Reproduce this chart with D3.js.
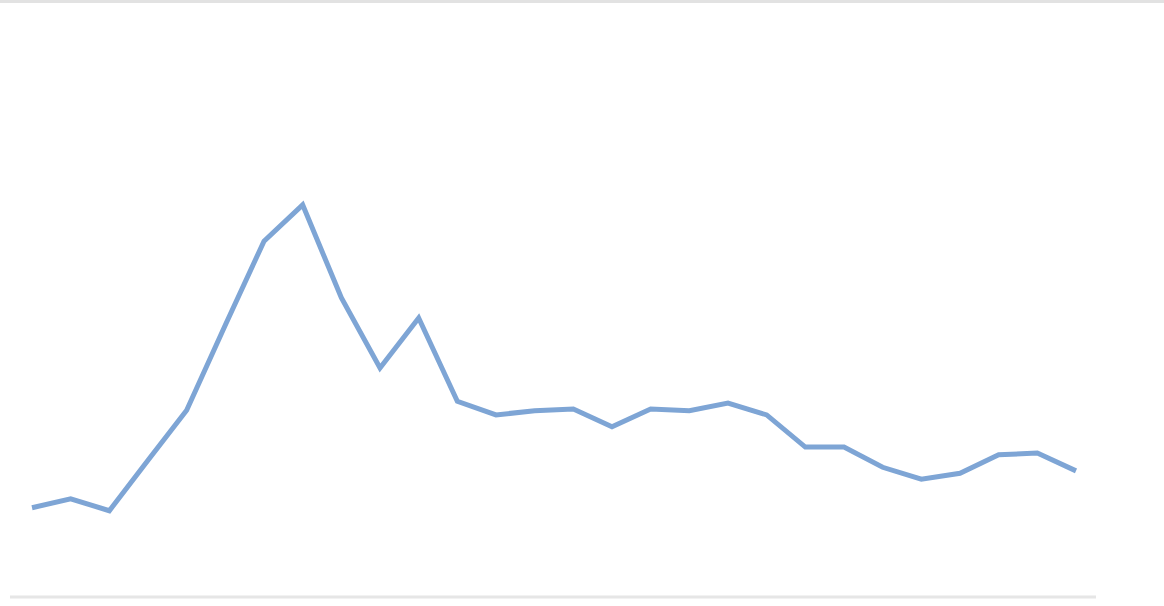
<!DOCTYPE html>
<html>
<head>
<meta charset="utf-8">
<script src="https://cdn.jsdelivr.net/npm/d3@7"></script>
<style>
  html, body { margin: 0; padding: 0; background: #fff; }
  svg { display: block; }
</style>
</head>
<body>
<svg id="chart"></svg>
<script>
// periods along the x axis (no labels shown in the picture)
const periods = d3.range(1, 29)
// series values
const values = [15.0, 16.5, 14.5, 23.0, 31.4, 45.7, 59.8, 65.9, 50.3, 38.5,
  46.9, 32.9, 30.6, 31.3, 31.6, 28.6, 31.6, 31.3, 32.6, 30.6,
  25.2, 25.2, 21.8, 19.8, 20.8, 23.9, 24.2, 21.2]

const width = 1164
const height = 606

const svg = d3.select('#chart')
  .attr('width', width)
  .attr('height', height)

let x = d3.scalePoint()
  .domain(periods)
  .range([32, 1076])

let y = d3.scaleLinear()
  .domain([0, 100])
  .range([597, 2])

// top border
svg.append('rect')
  .attr('x', 0).attr('y', 0)
  .attr('width', width).attr('height', 3)
  .attr('fill', '#e2e2e2')

// bottom axis line
svg.append('line')
  .attr('x1', 10).attr('x2', 1096)
  .attr('y1', y(0)).attr('y2', y(0))
  .attr('stroke', '#e6e6e6')
  .attr('stroke-width', 3)

let line = d3.line()
  .x((d, i) => x(periods[i]))
  .y(d => y(d))

svg.append('path')
  .datum(values)
  .attr('d', line)
  .attr('fill', 'none')
  .attr('stroke', '#7ea5d5')
  .attr('stroke-width', 5)
  .attr('stroke-linejoin', 'miter')
  .attr('stroke-linecap', 'butt')
</script>
</body>
</html>
